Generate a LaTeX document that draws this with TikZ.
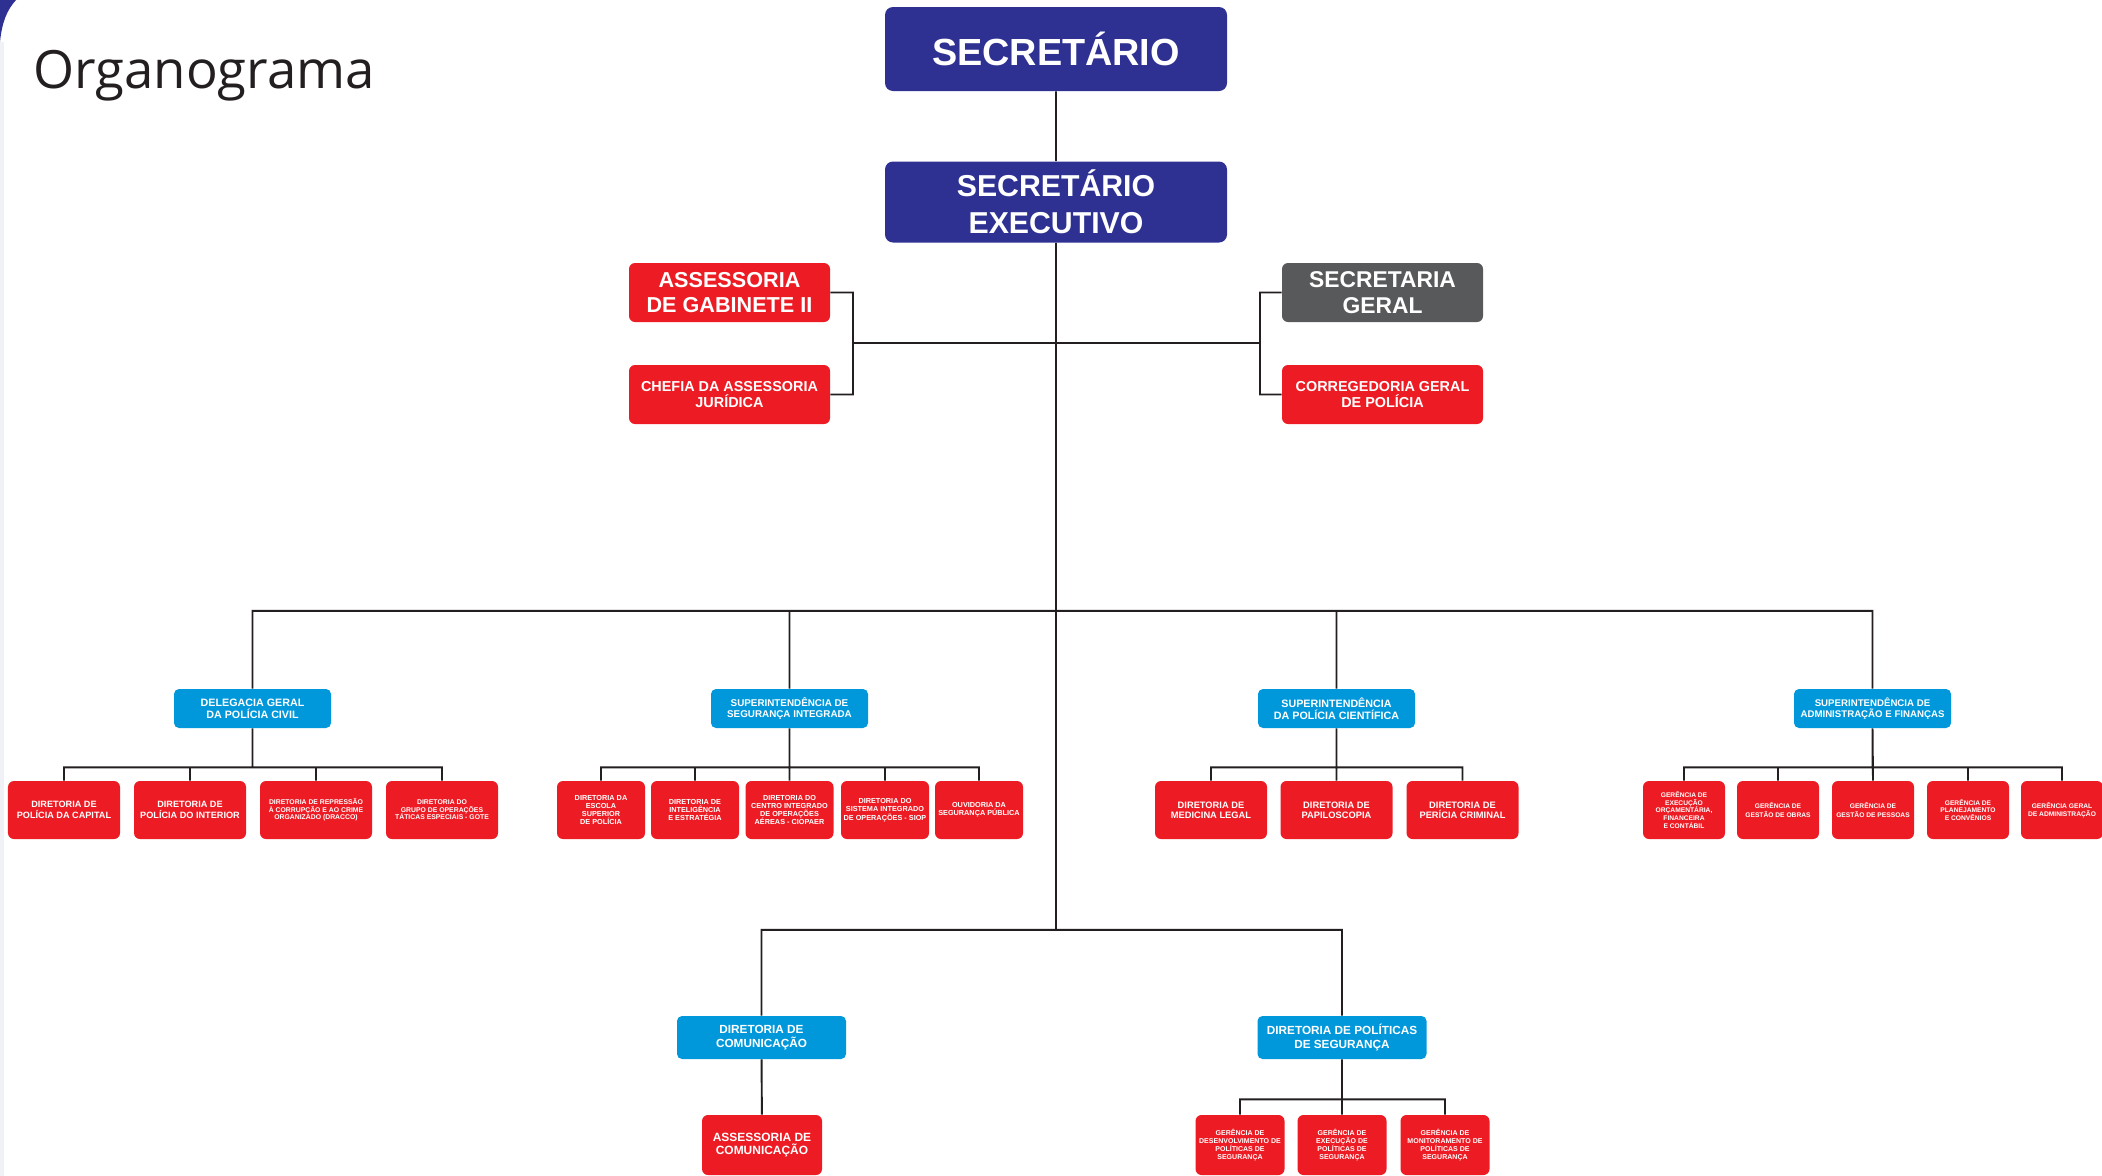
\documentclass[tikz,border=0pt]{standalone}
\usepackage{fontspec}
\setmainfont{Liberation Sans}
\newfontfamily\titlefont{Open Sans}
\usepackage{xcolor}
\usetikzlibrary{positioning}
\definecolor{navy}{HTML}{2E3192}
\definecolor{orgred}{HTML}{ED1C24}
\definecolor{orgblue}{HTML}{0098DA}
\definecolor{orggray}{HTML}{58595B}
\definecolor{ink}{HTML}{231F20}
\newcommand{\boxfont}[2]{\fontsize{#1}{#2}\selectfont\bfseries}

\begin{document}
\begin{tikzpicture}[x=0.2mm, y=-0.2mm,
        box/.style={rounded corners=1.2mm, text=white, align=center, inner sep=0pt},
        topbox/.style={box, fill=navy, rounded corners=1.6mm, minimum width=68.4mm},
        sidebox/.style={box, minimum width=40.2mm, minimum height=11.8mm},
        bluebox/.style={box, fill=orgblue, rounded corners=1mm, minimum width=31.4mm, minimum height=7.8mm},
        redbox/.style={box, fill=orgred, minimum height=11.6mm},
        link/.style={draw=ink, line width=1.1pt}]
    \useasboundingbox (0,0) rectangle (2102,1176);
    \clip (0,0) rectangle (2102,1176);
    \fill[white] (0,0) rectangle (2102,1176);
    \fill[navy] (0,0) -- (16,0) .. controls (7,10) and (2,22) .. (0,42) -- cycle;
    \fill[navy!7] (0,42) rectangle (4,1176);

    \node[anchor=base west, inner sep=0pt, text=ink, font=\titlefont\fontsize{30}{36}\selectfont] (title) at (33,88) {Organograma};

    % topo
    \node[topbox, minimum height=16.8mm, font=\boxfont{21.5}{24}] (sec) at (1056,49) {SECRETÁRIO};
    \node[topbox, minimum height=16.2mm, font=\boxfont{17.2}{20.8}] (sex) at (1056,202) {SECRETÁRIO\\EXECUTIVO};

    \node[sidebox, fill=orgred, font=\boxfont{12.3}{14}] (ag) at (729.5,292.5) {ASSESSORIA\\DE GABINETE II};
    \node[sidebox, fill=orgred, font=\boxfont{8.2}{9.3}] (cj) at (729.5,394.5) {CHEFIA DA ASSESSORIA\\JURÍDICA};
    \node[sidebox, fill=orggray, font=\boxfont{13}{15}] (sg) at (1382.5,292.5) {SECRETARIA\\GERAL};
    \node[sidebox, fill=orgred, font=\boxfont{8.2}{9.3}] (cg) at (1382.5,394.5) {CORREGEDORIA GERAL\\DE POLÍCIA};
    \coordinate (brl) at (853,343);
    \coordinate (brr) at (1260,343);

    % superintendencias
    \node[bluebox, font=\boxfont{6.1}{6.6}] (dg) at (252.5,708.5) {DELEGACIA GERAL\\DA POLÍCIA CIVIL};
    \node[bluebox, font=\boxfont{5.6}{5.9}] (si) at (789.5,708.5) {SUPERINTENDÊNCIA DE\\SEGURANÇA INTEGRADA};
    \node[bluebox, font=\boxfont{6.1}{6.6}] (sc) at (1336.5,708.5) {SUPERINTENDÊNCIA\\DA POLÍCIA CIENTÍFICA};
    \node[bluebox, font=\boxfont{5.5}{6.4}] (sa) at (1872.5,708.5) {SUPERINTENDÊNCIA DE\\ADMINISTRAÇÃO E FINANÇAS};

    \node[redbox, minimum width=22.4mm, font=\boxfont{5.2}{6.3}] (dg1) at (64,810) {DIRETORIA DE\\POLÍCIA DA CAPITAL};
    \node[redbox, minimum width=22.4mm, font=\boxfont{5.2}{6.3}] (dg2) at (190,810) {DIRETORIA DE\\POLÍCIA DO INTERIOR};
    \node[redbox, minimum width=22.4mm, font=\boxfont{3.9}{4.3}] (dg3) at (316,810) {DIRETORIA DE REPRESSÃO\\À CORRUPÇÃO E AO CRIME\\ORGANIZADO (DRACCO)};
    \node[redbox, minimum width=22.4mm, font=\boxfont{3.9}{4.3}] (dg4) at (442,810) {DIRETORIA DO\\GRUPO DE OPERAÇÕES\\TÁTICAS ESPECIAIS - GOTE};

    \node[redbox, minimum width=17.6mm, font=\boxfont{4.15}{4.7}] (si1) at (601,810) {DIRETORIA DA\\ESCOLA\\SUPERIOR\\DE POLÍCIA};
    \node[redbox, minimum width=17.6mm, font=\boxfont{4.15}{4.7}] (si2) at (695,810) {DIRETORIA DE\\INTELIGÊNCIA\\E ESTRATÉGIA};
    \node[redbox, minimum width=17.6mm, font=\boxfont{4.15}{4.7}] (si3) at (789.5,810) {DIRETORIA DO\\CENTRO INTEGRADO\\DE OPERAÇÕES\\AÉREAS - CIOPAER};
    \node[redbox, minimum width=17.6mm, font=\boxfont{4.15}{4.7}] (si4) at (885,810) {DIRETORIA DO\\SISTEMA INTEGRADO\\DE OPERAÇÕES - SIOP};
    \node[redbox, minimum width=17.6mm, font=\boxfont{4.15}{4.7}] (si5) at (979,810) {OUVIDORIA DA\\SEGURANÇA PÚBLICA};

    \node[redbox, minimum width=22.4mm, font=\boxfont{5.3}{5.8}] (sc1) at (1211,810) {DIRETORIA DE\\MEDICINA LEGAL};
    \node[redbox, minimum width=22.4mm, font=\boxfont{5.3}{5.8}] (sc2) at (1336.5,810) {DIRETORIA DE\\PAPILOSCOPIA};
    \node[redbox, minimum width=22.4mm, font=\boxfont{5.3}{5.8}] (sc3) at (1462.5,810) {DIRETORIA DE\\PERÍCIA CRIMINAL};

    \node[redbox, minimum width=16.4mm, font=\boxfont{3.8}{4.5}] (sa1) at (1684,810) {GERÊNCIA DE\\EXECUÇÃO\\ORÇAMENTÁRIA,\\FINANCEIRA\\E CONTÁBIL};
    \node[redbox, minimum width=16.4mm, font=\boxfont{3.8}{4.7}] (sa2) at (1778,810) {GERÊNCIA DE\\GESTÃO DE OBRAS};
    \node[redbox, minimum width=16.4mm, font=\boxfont{3.8}{4.7}] (sa3) at (1873,810) {GERÊNCIA DE\\GESTÃO DE PESSOAS};
    \node[redbox, minimum width=16.4mm, font=\boxfont{3.8}{4.5}] (sa4) at (1968,810) {GERÊNCIA DE\\PLANEJAMENTO\\E CONVÊNIOS};
    \node[redbox, minimum width=16.4mm, font=\boxfont{3.8}{4.7}] (sa5) at (2062,810) {GERÊNCIA GERAL\\DE ADMINISTRAÇÃO};

    % diretorias de baixo
    \node[bluebox, minimum width=33.8mm, minimum height=8.6mm, font=\boxfont{6.7}{8.4}] (dc) at (761.5,1037.5) {DIRETORIA DE\\COMUNICAÇÃO};
    \node[bluebox, minimum width=33.8mm, minimum height=8.6mm, font=\boxfont{6.7}{8.4}] (dp) at (1342,1037.5) {DIRETORIA DE POLÍTICAS\\DE SEGURANÇA};
    \node[redbox, minimum width=24mm, minimum height=12mm, font=\boxfont{6.8}{7.6}] (dc1) at (762,1145) {ASSESSORIA DE\\COMUNICAÇÃO};
    \node[redbox, minimum width=17.8mm, minimum height=12mm, font=\boxfont{4}{4.6}] (dp1) at (1240,1145) {GERÊNCIA DE\\DESENVOLVIMENTO DE\\POLÍTICAS DE\\SEGURANÇA};
    \node[redbox, minimum width=17.8mm, minimum height=12mm, font=\boxfont{4}{4.6}] (dp2) at (1342,1145) {GERÊNCIA DE\\EXECUÇÃO DE\\POLÍTICAS DE\\SEGURANÇA};
    \node[redbox, minimum width=17.8mm, minimum height=12mm, font=\boxfont{4}{4.6}] (dp3) at (1445,1145) {GERÊNCIA DE\\MONITORAMENTO DE\\POLÍTICAS DE\\SEGURANÇA};

    \draw[link]
    (sec) -- (sex)
    (ag.east) -| (brl) |- (cj.east)
    (sg.west) -| (brr) |- (cg.west)
    (brl) -- (brr)
    (sex.south) -- ++(0,368) -| (dg.north)
    (sex.south) -- ++(0,368) -| (si.north)
    (sex.south) -- ++(0,368) -| (sc.north)
    (sex.south) -- ++(0,368) -| (sa.north)
    (sex.south) -- ++(0,687) -| (dc.north)
    (sex.south) -- ++(0,687) -| (dp.north)
    (dg.south) -- ++(0,39) -| (dg1.north)
    (dg.south) -- ++(0,39) -| (dg2.north)
    (dg.south) -- ++(0,39) -| (dg3.north)
    (dg.south) -- ++(0,39) -| (dg4.north)
    (si.south) -- ++(0,39) -| (si1.north)
    (si.south) -- ++(0,39) -| (si2.north)
    (si.south) -- (si3.north)
    (si.south) -- ++(0,39) -| (si4.north)
    (si.south) -- ++(0,39) -| (si5.north)
    (sc.south) -- ++(0,39) -| (sc1.north)
    (sc.south) -- (sc2.north)
    (sc.south) -- ++(0,39) -| (sc3.north)
    (sa.south) -- ++(0,39) -| (sa1.north)
    (sa.south) -- ++(0,39) -| (sa2.north)
    (sa.south) -- (sa3.north)
    (sa.south) -- ++(0,39) -| (sa4.north)
    (sa.south) -- ++(0,39) -| (sa5.north)
    (dc) -- (dc1)
    (dp.south) -- ++(0,40) -| (dp1.north)
    (dp.south) -- (dp2.north)
    (dp.south) -- ++(0,40) -| (dp3.north);
\end{tikzpicture}
\end{document}
